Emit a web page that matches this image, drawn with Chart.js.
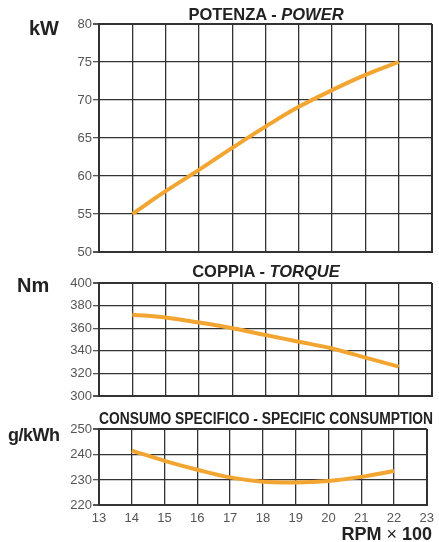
<!DOCTYPE html>
<html>
<head>
<meta charset="utf-8">
<script src="https://cdn.jsdelivr.net/npm/chart.js@4"></script>
<style>
  body { margin: 0; background: #fff; }
  #wrap { position: relative; width: 439px; height: 542px; font-family: "Liberation Sans", Arial, sans-serif; color: #222; }
  canvas { position: absolute; left: 0; top: 0; }
  .lbl { position: absolute; font-weight: bold; white-space: nowrap; line-height: 1; }
  .title { font-size: 16.5px; left: 99px; width: 334px; text-align: center; }
  .unit { font-size: 20px; }
  #consTitle { left: 99px; font-size: 16px; transform-origin: 0 0; }
</style>
</head>
<body>
<div id="wrap">
  <canvas id="powerChart" width="439" height="542"></canvas>
  <canvas id="torqueChart" width="439" height="542"></canvas>
  <canvas id="consChart" width="439" height="542"></canvas>
  <div class="lbl title" style="top:6px">POTENZA - <i>POWER</i></div>
  <div class="lbl title" style="top:263px">COPPIA - <i>TORQUE</i></div>
  <div class="lbl" id="consTitle" style="top:411px">CONSUMO SPECIFICO - SPECIFIC CONSUMPTION</div>
  <div class="lbl unit" style="left:29px; top:18px">kW</div>
  <div class="lbl unit" style="left:17px; top:275px">Nm</div>
  <div class="lbl unit" style="left:8px; top:426px; font-size:18px; letter-spacing:-0.5px">g/kWh</div>
  <div class="lbl" style="right:7px; top:525px; font-size:18px">RPM <span style="font-weight:normal">×</span> 100</div>
</div>
<script>
// RPM x 100
const rpm = [14, 15, 16, 17, 18, 19, 20, 21, 22];
// Potenza kW
const powerKw = [55, 58, 60.8, 63.7, 66.5, 69.1, 71.3, 73.3, 75];
// Coppia Nm
const torqueNm = [372, 369.5, 365, 360, 354, 348, 342, 334, 326];
// Consumo specifico g/kWh
const consumption = [241.5, 237.5, 234, 231, 229.3, 229, 229.6, 231.2, 233.5];

const gridColor = '#333';
const lineColor = '#F2A531';

// squeeze the long title into the plot width, like the condensed type of the original
const ct = document.getElementById('consTitle');
ct.style.transform = 'scaleX(' + (334 / ct.getBoundingClientRect().width) + ')';

function makeChart(id, values, yMin, yMax, yStep, labelEvery, padTop, padBottom, showX) {
  const ctx = document.getElementById(id).getContext('2d');
  return new Chart(ctx, {
    type: 'line',
    data: {
      datasets: [{
        data: rpm.map((r, i) => ({ x: r, y: values[i] })),
        borderColor: lineColor,
        borderWidth: 4,
        tension: 0.4,
        pointRadius: 0,
        fill: false
      }]
    },
    options: {
      responsive: false,
      animation: false,
      events: [],
      layout: { padding: { left: 0, right: 7, top: padTop, bottom: padBottom } },
      plugins: { legend: { display: false }, tooltip: { enabled: false } },
      scales: {
        x: {
          type: 'linear',
          min: 13,
          max: 23,
          ticks: {
            display: showX,
            stepSize: 1,
            color: '#555',
            font: { family: 'Liberation Sans', size: 13 },
            padding: 5
          },
          grid: {
            color: gridColor,
            lineWidth: c => (c.tick && (c.tick.value === 13 || c.tick.value === 23)) ? 2 : 1.3,
            drawTicks: false
          },
          border: { color: gridColor, width: 2 }
        },
        y: {
          min: yMin,
          max: yMax,
          afterFit: s => { s.width = 99; },
          ticks: {
            stepSize: yStep,
            color: '#555',
            font: { family: 'Liberation Sans', size: 13 },
            padding: 1,
            callback: v => ((v - yMin) % labelEvery === 0 ? v : '')
          },
          grid: {
            color: gridColor,
            lineWidth: c => (c.tick && (c.tick.value === yMin || c.tick.value === yMax)) ? 2 : 1.3,
            tickLength: 6,
            tickColor: c => (c.tick && (c.tick.value - yMin) % labelEvery === 0) ? '#555' : 'rgba(0,0,0,0)'
          },
          border: { color: gridColor, width: 2 }
        }
      }
    }
  });
}

makeChart('powerChart', powerKw, 50, 80, 5, 5, 24, 290, false);
makeChart('torqueChart', torqueNm, 300, 400, 10, 20, 283, 146, false);
makeChart('consChart', consumption, 220, 250, 5, 10, 429, 11, true);
</script>
</body>
</html>
